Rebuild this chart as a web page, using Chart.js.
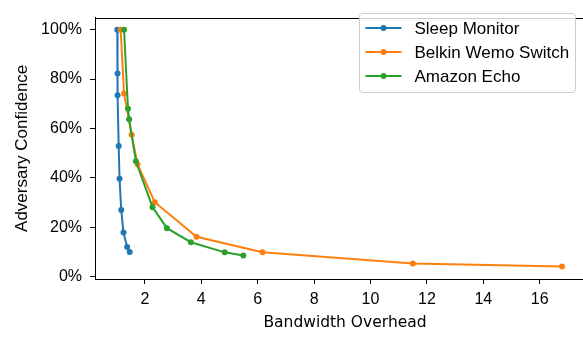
<!DOCTYPE html>
<html>
<head>
<meta charset="utf-8">
<script src="https://cdn.jsdelivr.net/npm/chart.js@4"></script>
<style>
  html, body { margin: 0; padding: 0; background: #fff; overflow: hidden; }
  canvas { display: block; }
</style>
</head>
<body>
<canvas id="myChart" width="607" height="337"></canvas>
<script>
// valores (overhead de banda x confiança do adversário em %)
const seriesNames = ['Sleep Monitor', 'Belkin Wemo Switch', 'Amazon Echo'];
const seriesColors = ['#1f77b4', '#ff7f0e', '#2ca02c'];

const sleepX = [1.02, 1.03, 1.03, 1.07, 1.10, 1.16, 1.24, 1.37, 1.46];
const sleepY = [100, 82.3, 73.4, 52.9, 39.6, 27.0, 17.8, 12.0, 9.9];

const belkinX = [1.14, 1.26, 1.53, 1.74, 2.35, 3.83, 6.17, 11.5, 16.79];
const belkinY = [100, 74.2, 57.4, 45.4, 30.1, 16.1, 9.8, 5.3, 4.1];

const echoX = [1.26, 1.40, 1.44, 1.68, 2.27, 2.78, 3.63, 4.83, 5.49];
const echoY = [100, 68.0, 63.7, 46.7, 28.1, 19.6, 13.9, 9.8, 8.5];

const xTicks = [2, 4, 6, 8, 10, 12, 14, 16];
const yTicks = [0, 20, 40, 60, 80, 100];

const allX = [sleepX, belkinX, echoX];
const allY = [sleepY, belkinY, echoY];

function toPoints(xs, ys) {
    return xs.map((x, i) => ({ x: x, y: ys[i] }));
}

const datasets = seriesNames.map((name, i) => ({
    label: name,
    data: toPoints(allX[i], allY[i]),
    showLine: true,
    borderColor: seriesColors[i],
    backgroundColor: seriesColors[i],
    borderWidth: 2,
    pointRadius: 3,
    pointHoverRadius: 3,
    pointBorderWidth: 0,
    order: seriesNames.length - 1 - i // verde por cima, como no original
}));

// moldura do gráfico (topo e direita)
const framePlugin = {
    id: 'frame',
    afterDatasetsDraw(chart) {
        const a = chart.chartArea;
        const c = chart.ctx;
        c.save();
        c.strokeStyle = '#000';
        c.lineWidth = 1;
        c.strokeRect(Math.round(a.left) + 0.5, Math.round(a.top) + 0.5, Math.round(a.right - a.left), Math.round(a.bottom - a.top));
        c.restore();
    }
};

// legenda no estilo matplotlib (linha com marcador)
const legendPlugin = {
    id: 'mplLegend',
    afterDraw(chart) {
        const c = chart.ctx;
        const boxW = 216, boxH = 79;
        const bx = 359.5, by = 13.5;
        c.save();
        c.beginPath();
        c.roundRect(bx, by, boxW, boxH, 3);
        c.fillStyle = 'rgba(255,255,255,0.8)';
        c.fill();
        c.strokeStyle = '#cccccc';
        c.lineWidth = 1;
        c.stroke();
        c.font = '17px "Liberation Sans", Arial, sans-serif';
        c.textBaseline = 'middle';
        chart.data.datasets.forEach((ds, i) => {
            const y = by + 14.5 + i * 24;
            c.strokeStyle = ds.borderColor;
            c.lineWidth = 2;
            c.beginPath();
            c.moveTo(bx + 6, y);
            c.lineTo(bx + 42, y);
            c.stroke();
            c.fillStyle = ds.borderColor;
            c.beginPath();
            c.arc(bx + 24, y, 3, 0, Math.PI * 2);
            c.fill();
            c.fillStyle = '#000';
            c.fillText(ds.label, bx + 55, y + 1);
        });
        c.restore();
    }
};

const ctx = document.getElementById('myChart').getContext('2d');
const myChart = new Chart(ctx, {
    type: 'scatter',
    data: { datasets: datasets },
    options: {
        responsive: false,
        animation: false,
        devicePixelRatio: 1,
        layout: { padding: { top: 5, right: 12, left: 0, bottom: 0 } },
        plugins: {
            legend: { display: false },
            tooltip: { enabled: false }
        },
        scales: {
            x: {
                type: 'linear',
                min: 0.23,
                max: 17.96,
                afterBuildTicks: axis => { axis.ticks = xTicks.map(v => ({ value: v })); },
                afterFit: axis => { axis.height = 58; },
                border: { display: true, color: '#000', width: 1 },
                grid: { display: true, drawOnChartArea: false, drawTicks: true, tickLength: 5, color: '#000' },
                ticks: {
                    color: '#000',
                    padding: 6,
                    maxRotation: 0,
                    autoSkip: false,
                    font: { family: '"Liberation Sans", Arial, sans-serif', size: 16 }
                },
                title: {
                    display: true,
                    text: 'Bandwidth Overhead',
                    color: '#000',
                    padding: { top: 0, bottom: 5 },
                    font: { family: '"DejaVu Sans", sans-serif', size: 15.5 }
                }
            },
            y: {
                type: 'linear',
                min: -1,
                max: 104.9,
                afterBuildTicks: axis => { axis.ticks = yTicks.map(v => ({ value: v })); },
                afterFit: axis => { axis.width = 95; },
                border: { display: true, color: '#000', width: 1 },
                grid: { display: true, drawOnChartArea: false, drawTicks: true, tickLength: 5, color: '#000' },
                ticks: {
                    color: '#000',
                    padding: 8,
                    autoSkip: false,
                    callback: v => v + '%',
                    font: { family: '"Liberation Sans", Arial, sans-serif', size: 16 }
                },
                title: {
                    display: true,
                    text: 'Adversary Confidence',
                    color: '#000',
                    padding: { top: 12, bottom: 0 },
                    font: { family: '"Liberation Sans", Arial, sans-serif', size: 17 }
                }
            }
        }
    },
    plugins: [framePlugin, legendPlugin]
});
</script>
</body>
</html>
